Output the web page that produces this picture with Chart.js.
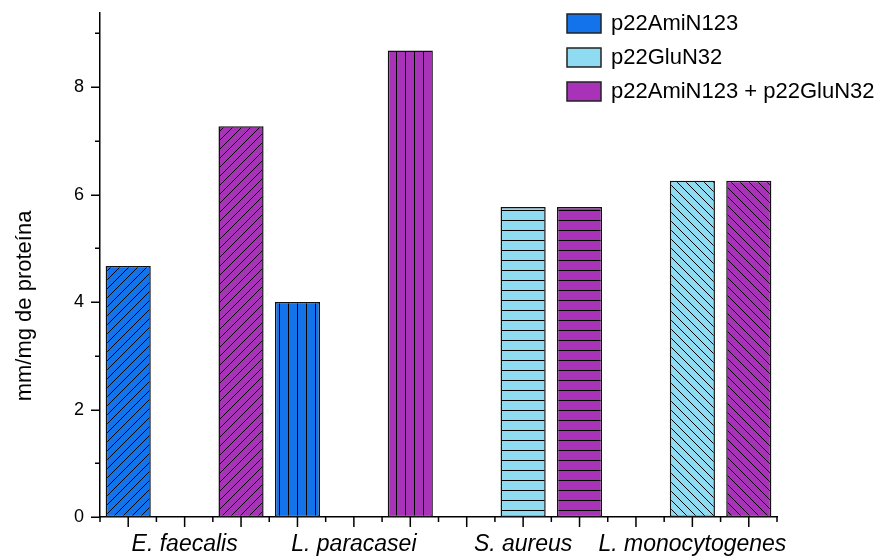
<!DOCTYPE html>
<html>
<head>
<meta charset="utf-8">
<script src="https://cdn.jsdelivr.net/npm/chart.js@4/dist/chart.umd.min.js"></script>
<style>
    body { margin: 0; background: #fff; }
    #wrap { width: 885px; height: 557px; }
</style>
</head>
<body>
<div id="wrap"><canvas id="mainGraph"></canvas></div>
<script>
// Data
const categories = ['E. faecalis', 'L. paracasei', 'S. aureus', 'L. monocytogenes'];
const seriesNames = ['p22AmiN123', 'p22GluN32', 'p22AmiN123 + p22GluN32'];
const amiValues = [4.67, 4.0, null, null];
const gluValues = [null, null, 5.77, 6.26];
const comboValues = [7.27, 8.68, 5.77, 6.26];
const yTickValues = [0, 1, 2, 3, 4, 5, 6, 7, 8, 9];
const yMax = 9.38;

// Styles
const seriesColors = ['rgb(19, 115, 235)', 'rgb(143, 220, 242)', 'rgb(168, 50, 184)'];
const categoryHatch = ['slash', 'vertical', 'horizontal', 'backslash'];
const fontFamily = '"Liberation Sans", Arial, sans-serif';

function makePattern(color, kind) {
    const s = kind === 'horizontal' ? 10 : 9;
    const c = document.createElement('canvas');
    c.width = s;
    c.height = s;
    const g = c.getContext('2d');
    g.fillStyle = color;
    g.fillRect(0, 0, s, s);
    g.strokeStyle = '#000';
    g.lineWidth = 1;
    g.beginPath();
    if (kind === 'slash') {
        g.moveTo(0, s); g.lineTo(s, 0);
        g.moveTo(-2, 2); g.lineTo(2, -2);
        g.moveTo(s - 2, s + 2); g.lineTo(s + 2, s - 2);
    } else if (kind === 'backslash') {
        g.moveTo(0, 0); g.lineTo(s, s);
        g.moveTo(-2, s - 2); g.lineTo(2, s + 2);
        g.moveTo(s - 2, -2); g.lineTo(s + 2, 2);
    } else if (kind === 'vertical') {
        g.moveTo(0.5, 0); g.lineTo(0.5, s);
    } else {
        g.moveTo(0, 0.5); g.lineTo(s, 0.5);
    }
    g.stroke();
    return g.createPattern(c, 'repeat');
}

// one slot per bar, three slots per category
const nSeries = seriesNames.length;
const slotLabels = [];
categories.forEach(cat => {
    for (let k = 0; k < nSeries; k++) slotLabels.push(k === 1 ? cat : '');
});

function slotData(values, seriesIdx) {
    const out = slotLabels.map(() => null);
    values.forEach((v, i) => { out[i * nSeries + seriesIdx] = v; });
    return out;
}

function slotPatterns(seriesIdx) {
    return slotLabels.map((l, slot) => makePattern(seriesColors[seriesIdx], categoryHatch[Math.floor(slot / nSeries)]));
}

const allValues = [amiValues, gluValues, comboValues];

const datasets = allValues.map((vals, i) => ({
    label: seriesNames[i],
    data: slotData(vals, i),
    backgroundColor: slotPatterns(i),
    legendColor: seriesColors[i],
    borderColor: '#111',
    borderWidth: 1.5,
    borderSkipped: false,
    grouped: false,
    barPercentage: 0.8,
    categoryPercentage: 1
}));

// tick marks (major + minor) drawn on both axes
const tickMarks = {
    id: 'tickMarks',
    afterDraw(chart) {
        const { ctx, scales: { x, y } } = chart;
        ctx.save();
        ctx.strokeStyle = '#000';
        ctx.lineWidth = 1.5;
        ctx.beginPath();
        yTickValues.forEach(v => {
            const py = Math.round(y.getPixelForValue(v)) + 0.25;
            const len = v % 2 === 0 ? 9 : 5;
            ctx.moveTo(y.right - len, py);
            ctx.lineTo(y.right, py);
        });
        for (let i = 0; i < slotLabels.length; i++) {
            const px = x.getPixelForValue(i);
            ctx.moveTo(px, x.top);
            ctx.lineTo(px, x.top + 10);
        }
        for (let i = 0; i <= slotLabels.length; i++) {
            const px = x.getPixelForValue(i - 0.5);
            ctx.moveTo(px, x.top);
            ctx.lineTo(px, x.top + 5);
        }
        ctx.stroke();
        ctx.restore();
    }
};

// legend in the top right corner and the y axis title
const sideTexts = {
    id: 'sideTexts',
    afterDraw(chart) {
        const ctx = chart.ctx;
        ctx.save();
        ctx.font = '22px ' + fontFamily;
        ctx.textBaseline = 'middle';
        ctx.textAlign = 'left';
        chart.data.datasets.forEach((ds, i) => {
            const top = 14 + i * 34;
            ctx.fillStyle = ds.legendColor;
            ctx.fillRect(567, top, 34, 19);
            ctx.strokeStyle = '#222';
            ctx.lineWidth = 1.5;
            ctx.strokeRect(567, top, 34, 19);
            ctx.fillStyle = '#000';
            ctx.fillText(ds.label, 611, top + 10);
        });

        ctx.translate(25, 306);
        ctx.rotate(-Math.PI / 2);
        ctx.textAlign = 'center';
        ctx.fillText('mm/mg de proteína', 0, 0);
        ctx.restore();
    }
};

const mainGraph = document.getElementById('mainGraph').getContext('2d');

new Chart(mainGraph, {
    type: 'bar',
    data: {
        labels: slotLabels,
        datasets: datasets
    },
    options: {
        responsive: true,
        maintainAspectRatio: false,
        animation: false,
        layout: {
            padding: { top: 13, right: 108, bottom: 0, left: 0 }
        },
        plugins: {
            legend: { display: false },
            tooltip: { enabled: false }
        },
        scales: {
            x: {
                offset: true,
                grid: { display: false, drawTicks: false },
                border: { display: true, color: '#000', width: 1.5 },
                ticks: {
                    autoSkip: false,
                    maxRotation: 0,
                    minRotation: 0,
                    padding: 14,
                    color: '#000',
                    font: { family: fontFamily, size: 23, style: 'italic' },
                    callback: (v, i) => slotLabels[i]
                },
                afterFit: scale => {
                    scale.height = 40;
                    scale.paddingLeft = 0;
                    scale.paddingRight = 0;
                }
            },
            y: {
                min: 0,
                max: yMax,
                afterBuildTicks: scale => {
                    scale.ticks = yTickValues.map(v => ({ value: v }));
                },
                grid: { display: false, drawTicks: false },
                border: { display: true, color: '#000', width: 1.5 },
                ticks: {
                    padding: 16,
                    color: '#000',
                    font: { family: fontFamily, size: 18 },
                    callback: v => (v % 2 === 0 ? v : '')
                },
                afterFit: scale => {
                    scale.width = 100;
                    scale.paddingTop = 0;
                    scale.paddingBottom = 0;
                }
            }
        }
    },
    plugins: [tickMarks, sideTexts]
});
</script>
</body>
</html>
